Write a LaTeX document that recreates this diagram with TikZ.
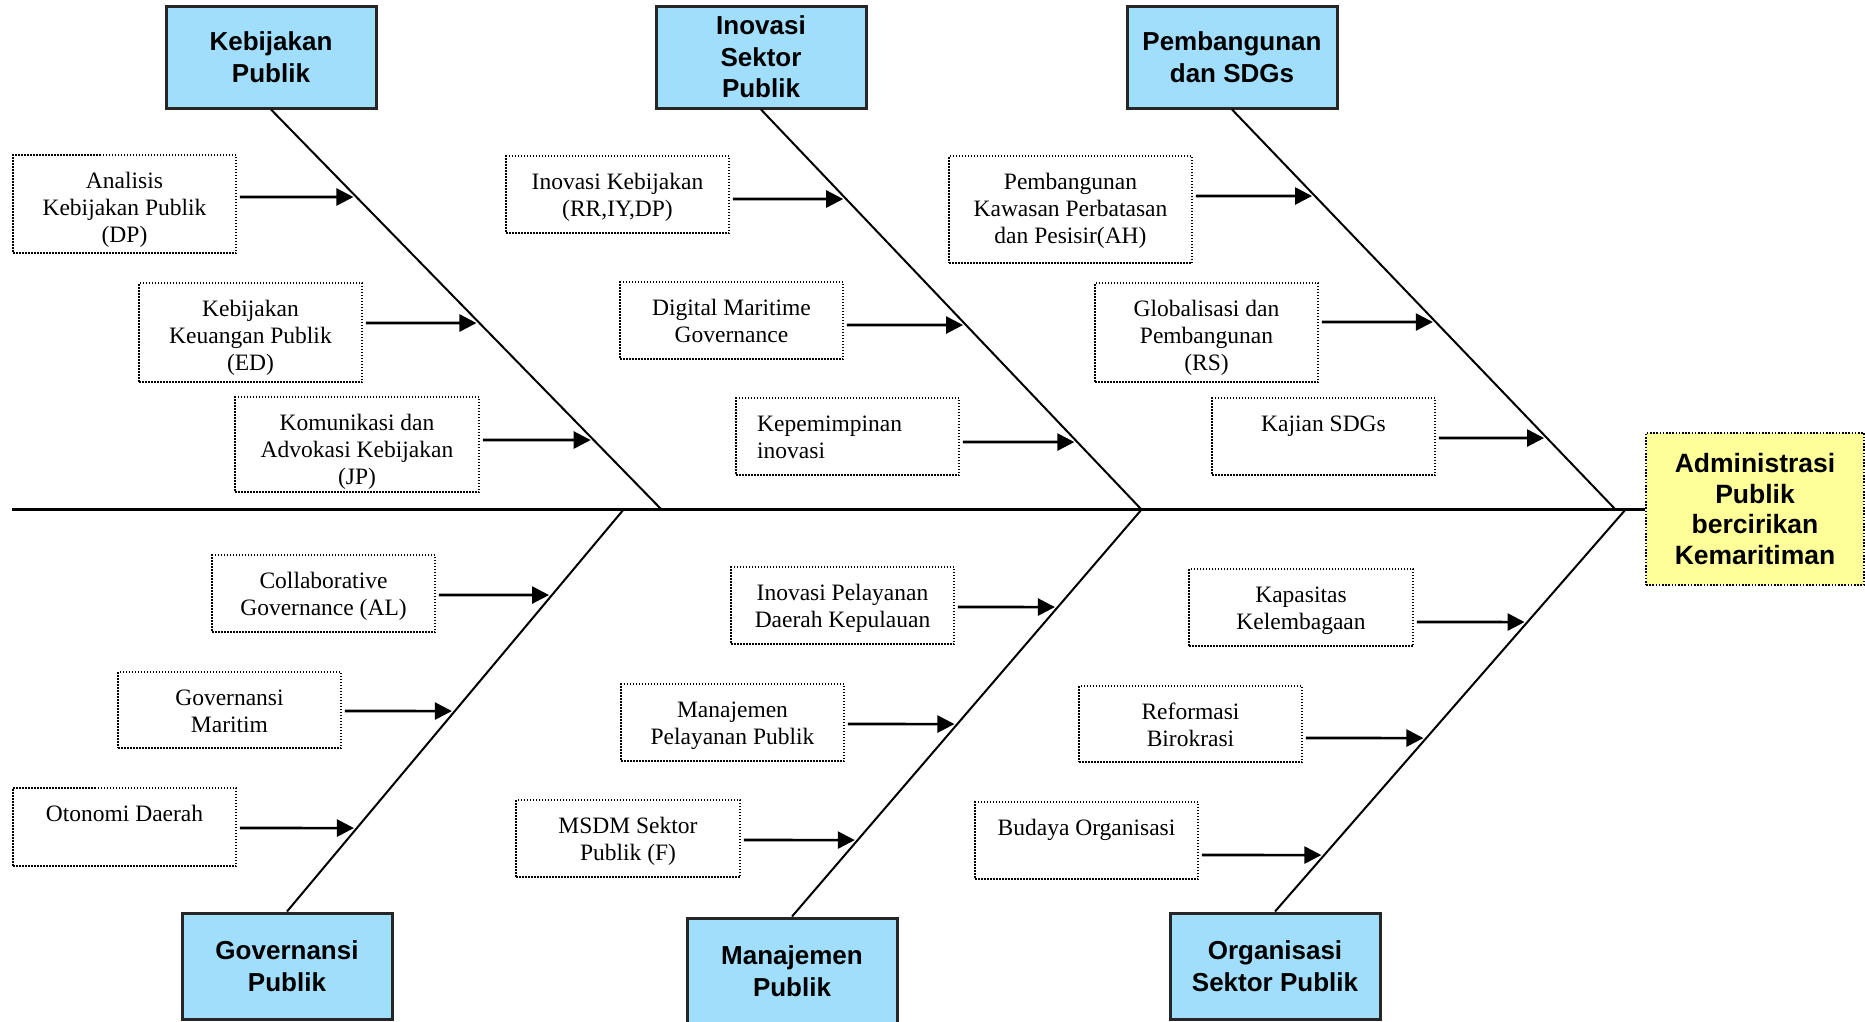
\documentclass[tikz,border=0pt]{standalone}
\usepackage{fontspec}
\setmainfont{Liberation Serif}
\newfontfamily\labelfont{Liberation Sans}
\usetikzlibrary{arrows.meta}

\definecolor{catblue}{RGB}{160,222,252}
\definecolor{headyellow}{RGB}{255,255,153}

\newcommand\subbox[6]{%
  \node[subbox, minimum width={#4-#2}, minimum height={#5-#3}] (#1) at ({(#2+#4)/2},{(#3+#5)/2}) {};
  \node[subtext] (#1t) at ({(#2+#4)/2},{#3+15}) {\strut #6};}
\newcommand\bonearrow[4]{%
  \draw[arr] (#1.east |- 0,#2) -- (intersection of 0,#2--1900,#2 and #3--#4);}

\begin{document}
\begin{tikzpicture}[x=1pt,y=-1pt,
  catbox/.style={draw=black!85, line width=3pt, fill=catblue, inner sep=0pt, align=center,
    minimum width=210, font=\labelfont\bfseries\fontsize{26}{31.5}\selectfont},
  headbox/.style={draw, line width=1.6pt, dash pattern=on 1.6pt off 1.6pt, fill=headyellow,
    inner sep=0pt, align=center, font=\labelfont\bfseries\fontsize{26.5}{30.6}\selectfont},
  subbox/.style={draw, line width=1.5pt, dash pattern=on 1.5pt off 1.5pt, inner sep=0pt},
  subtext/.style={anchor=north, inner sep=0pt, align=center, font=\fontsize{23.5}{26.7}\selectfont},
  bone/.style={line width=2pt},
  spine/.style={line width=3pt},
  arr/.style={line width=2.6pt, -{Triangle[length=17pt,width=17pt]}, shorten <=3pt, shorten >=3pt},
]
\fill[white] (0,0) rectangle (1865,1021);
\useasboundingbox (0,0) rectangle (1865,1021);

% category boxes
\node[catbox, minimum height=102] (kp) at (271,57) {Kebijakan\\Publik};
\node[catbox, minimum height=102] (ip) at (761,57) {Inovasi\\Sektor\\Publik};
\node[catbox, minimum height=102] (pp) at (1232,57) {Pembangunan\\dan SDGs};
\node[catbox, minimum height=106] (gp) at (287,966) {Governansi\\Publik};
\node[catbox, minimum height=106] (mp) at (792,971) {Manajemen\\Publik};
\node[catbox, minimum height=106] (op) at (1275,966) {Organisasi\\Sektor Publik};

% head
\node[headbox, minimum width=218, minimum height=152] (head) at (1755,509)
  {Administrasi\\Publik\\bercirikan\\Kemaritiman};

% spine and bones
\coordinate (spl) at (12,509);
\coordinate (kps) at (661,509);
\coordinate (ips) at (1141,509);
\coordinate (pps) at (1615,509);
\coordinate (gps) at (624,509);
\coordinate (mps) at (1142,509);
\coordinate (ops) at (1626,509);
\draw[spine] (spl) -- (head.west);
\draw[bone] (kp.south) -- (kps);
\draw[bone] (ip.south) -- (ips);
\draw[bone] (pp.south) -- (pps);
\draw[bone] (gp.north) -- (gps);
\draw[bone] (mp.north) -- (mps);
\draw[bone] (op.north) -- (ops);

% sub-causes
\subbox{a1}{13}{155}{236}{253}{Analisis\\Kebijakan Publik\\(DP)}
\subbox{a2}{139}{283}{362}{382}{Kebijakan\\Keuangan Publik\\(ED)}
\subbox{a3}{235}{397}{479}{492}{Komunikasi dan\\Advokasi Kebijakan\\(JP)}
\subbox{b1}{506}{156}{729}{233}{Inovasi Kebijakan\\(RR,IY,DP)}
\subbox{b2}{620}{282}{843}{359}{Digital Maritime\\Governance}
\node[subbox, minimum width=223, minimum height=77] (b3) at (847.5,436.5) {};
\node[subtext, anchor=north west, align=left] (b3t) at (757,413) {\strut Kepemimpinan\\inovasi};
\subbox{c1}{949}{156}{1192}{263}{Pembangunan\\Kawasan Perbatasan\\dan Pesisir(AH)}
\subbox{c2}{1095}{283}{1318}{382}{Globalisasi dan\\Pembangunan\\(RS)}
\subbox{c3}{1212}{398}{1435}{475}{Kajian SDGs}
\subbox{d1}{212}{555}{435}{632}{Collaborative\\Governance (AL)}
\subbox{d2}{118}{672}{341}{748}{Governansi\\Maritim}
\subbox{d3}{13}{788}{236}{866}{Otonomi Daerah}
\subbox{e1}{731}{567}{954}{644}{Inovasi Pelayanan\\Daerah Kepulauan}
\subbox{e2}{621}{684}{844}{761}{Manajemen\\Pelayanan Publik}
\subbox{e3}{516}{800}{740}{877}{MSDM Sektor\\Publik (F)}
\subbox{f1}{1189}{569}{1413}{646}{Kapasitas\\Kelembagaan}
\subbox{f2}{1079}{686}{1302}{762}{Reformasi\\Birokrasi}
\subbox{f3}{975}{802}{1198}{879}{Budaya Organisasi}

% arrows
\bonearrow{a1}{197}{kp.south}{kps}
\bonearrow{a2}{323}{kp.south}{kps}
\bonearrow{a3}{440}{kp.south}{kps}
\bonearrow{b1}{199}{ip.south}{ips}
\bonearrow{b2}{325}{ip.south}{ips}
\bonearrow{b3}{442}{ip.south}{ips}
\bonearrow{c1}{196}{pp.south}{pps}
\bonearrow{c2}{322}{pp.south}{pps}
\bonearrow{c3}{438}{pp.south}{pps}
\bonearrow{d1}{595}{gp.north}{gps}
\bonearrow{d2}{711}{gp.north}{gps}
\bonearrow{d3}{828}{gp.north}{gps}
\bonearrow{e1}{607}{mp.north}{mps}
\bonearrow{e2}{724}{mp.north}{mps}
\bonearrow{e3}{840}{mp.north}{mps}
\bonearrow{f1}{622}{op.north}{ops}
\bonearrow{f2}{738}{op.north}{ops}
\bonearrow{f3}{855}{op.north}{ops}
\end{tikzpicture}
\end{document}
